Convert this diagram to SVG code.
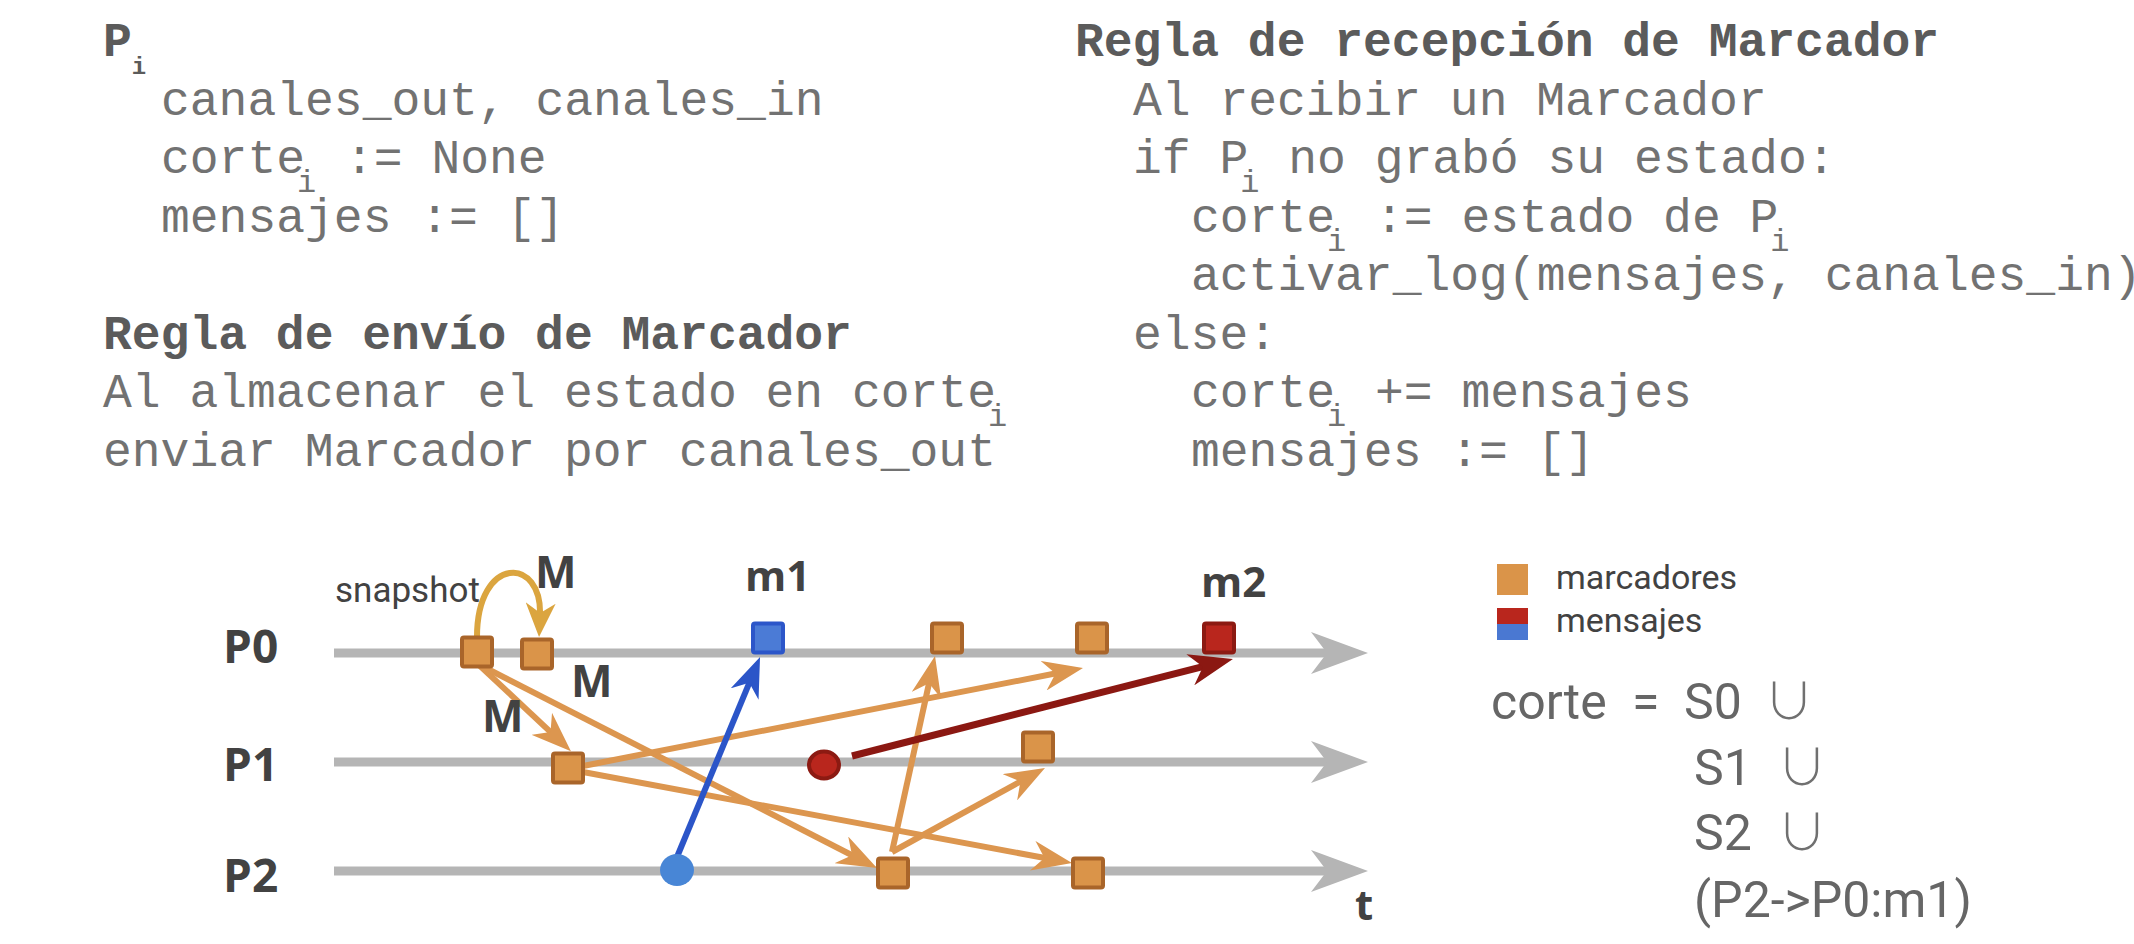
<svg xmlns="http://www.w3.org/2000/svg" width="2134" height="944" viewBox="0 0 2134 944">
<style>
.code{font-family:"Courier New","Nimbus Mono PS","Nimbus Mono L","FreeMono","Liberation Mono",monospace;font-size:48px;fill:#727272;}
.codeb{font-family:"Courier New","Nimbus Mono PS","Nimbus Mono L","FreeMono","Liberation Mono",monospace;font-size:48px;font-weight:bold;fill:#5b5b5b;}
.sub{font-size:32px;}
.subb{font-size:24px;}
.lbl{font-family:"Open Sans","DejaVu Sans",sans-serif;font-weight:bold;fill:#424242;}
.reg{font-family:Roboto,"Open Sans",sans-serif;fill:#424242;}
.frm{font-family:Roboto,"Open Sans",sans-serif;font-size:50px;fill:#666666;}
.cup{font-family:"Noto Sans CJK JP","Noto Sans CJK SC","DejaVu Sans",sans-serif;font-size:50px;font-weight:200;fill:#707070;}
.tl{stroke:#b5b5b5;stroke-width:9;fill:none;}
.tlh{fill:#b5b5b5;}
.mk{fill:#da9449;stroke:#a9652a;stroke-width:4;}
.mb{fill:#4b7bd6;stroke:#2c56c9;stroke-width:4;}
.mr{fill:#b9261d;stroke:#8c1a12;stroke-width:4;}
.or{stroke:#dc964f;stroke-width:6;fill:none;marker-end:url(#ah-or);}
</style>
<defs>
<marker id="ah-or" markerUnits="userSpaceOnUse" viewBox="0 0 40 30" refX="18" refY="15" markerWidth="40" markerHeight="30" orient="auto"><path d="M0,0 L40,15 L0,30 L12,15 z" fill="#dc964f"/></marker>
<marker id="ah-gd" markerUnits="userSpaceOnUse" viewBox="0 0 34 30" refX="14" refY="15" markerWidth="34" markerHeight="30" orient="auto"><path d="M0,0 L34,15 L0,30 L10,15 z" fill="#dba53f"/></marker>
<marker id="ah-bl" markerUnits="userSpaceOnUse" viewBox="0 0 40 30" refX="18" refY="15" markerWidth="40" markerHeight="30" orient="auto"><path d="M0,0 L40,15 L0,30 L12,15 z" fill="#2b55c8"/></marker>
<marker id="ah-rd" markerUnits="userSpaceOnUse" viewBox="0 0 44 32" refX="20" refY="16" markerWidth="44" markerHeight="32" orient="auto"><path d="M0,0 L44,16 L0,32 L13,16 z" fill="#8b1812"/></marker>
</defs>
<rect width="2134" height="944" fill="#ffffff"/>

<g id="code-left">
<text class="codeb" x="103" y="56">P<tspan class="subb" dy="18">i</tspan></text>
<text class="code" x="161" y="114.5">canales_out, canales_in</text>
<text class="code" x="161" y="173">corte<tspan class="sub" dx="-8" dy="19">i</tspan><tspan dy="-19"> := None</tspan></text>
<text class="code" x="161" y="231.5">mensajes := []</text>
<text class="codeb" x="103" y="348.5">Regla de envío de Marcador</text>
<text class="code" x="103" y="407">Al almacenar el estado en corte<tspan class="sub" dx="-8" dy="19">i</tspan></text>
<text class="code" x="103" y="465.5">enviar Marcador por canales_out</text>
</g>

<g id="code-right">
<text class="codeb" x="1075" y="56">Regla de recepción de Marcador</text>
<text class="code" x="1133" y="114.5">Al recibir un Marcador</text>
<text class="code" x="1133" y="173">if P<tspan class="sub" dx="-8" dy="19">i</tspan><tspan dy="-19"> no grabó su estado:</tspan></text>
<text class="code" x="1191" y="231.5">corte<tspan class="sub" dx="-8" dy="19">i</tspan><tspan dy="-19"> := estado de P</tspan><tspan class="sub" dx="-8" dy="19">i</tspan></text>
<text class="code" x="1191" y="290">activar_log(mensajes, canales_in)</text>
<text class="code" x="1133" y="348.5">else:</text>
<text class="code" x="1191" y="407">corte<tspan class="sub" dx="-8" dy="19">i</tspan><tspan dy="-19"> += mensajes</tspan></text>
<text class="code" x="1191" y="465.5">mensajes := []</text>
</g>

<g id="timelines">
<g id="P0">
<line class="tl" x1="334" y1="653" x2="1330" y2="653"/>
<polygon class="tlh" points="1368,653 1311,632 1327,653 1311,674"/>
<text class="lbl" x="223" y="663" font-size="46">P0</text>
</g>
<g id="P1">
<line class="tl" x1="334" y1="762" x2="1330" y2="762"/>
<polygon class="tlh" points="1368,762 1311,741 1327,762 1311,783"/>
<text class="lbl" x="223" y="781" font-size="46">P1</text>
</g>
<g id="P2">
<line class="tl" x1="334" y1="871" x2="1330" y2="871"/>
<polygon class="tlh" points="1368,871 1311,850 1327,871 1311,892"/>
<text class="lbl" x="223" y="892" font-size="46">P2</text>
<text class="lbl" x="1355" y="920" font-size="42">t</text>
</g>
</g>

<g id="connectors">
<path d="M477,637 C477,555 543,555 540,617" stroke="#dba53f" stroke-width="6" fill="none" marker-end="url(#ah-gd)"/>
<line class="or" x1="478" y1="664" x2="554.9" y2="736.1"/>
<line class="or" x1="478" y1="664" x2="857.4" y2="858"/>
<line class="or" x1="583" y1="766" x2="1061.4" y2="672.3"/>
<line class="or" x1="583" y1="772" x2="1050.4" y2="859"/>
<line class="or" x1="892" y1="852" x2="930.3" y2="677.5"/>
<line class="or" x1="892" y1="852" x2="1025.7" y2="778.6"/>
<line x1="677" y1="857" x2="751.6" y2="677.3" stroke="#2b55c8" stroke-width="6" marker-end="url(#ah-bl)"/>
<line x1="852" y1="756" x2="1209.7" y2="664.9" stroke="#8b1812" stroke-width="7" marker-end="url(#ah-rd)"/>
</g>

<g id="labels">
<text class="reg" x="335" y="602" font-size="35">snapshot</text>
<text class="lbl" x="535" y="588" font-size="44">M</text>
<text class="lbl" x="571" y="697" font-size="44">M</text>
<text class="lbl" x="482" y="732" font-size="44">M</text>
<text class="lbl" x="745" y="591" font-size="42">m1</text>
<text class="lbl" x="1201" y="597" font-size="42">m2</text>
</g>

<g id="n-p0-snap"><rect class="mk" x="462" y="637.5" width="30" height="29" rx="2"/></g>
<g id="n-p0-m"><rect class="mk" x="522" y="639.5" width="30" height="29" rx="2"/></g>
<g id="n-m1"><rect class="mb" x="753" y="623.5" width="30" height="29" rx="2"/></g>
<g id="n-p0-c"><rect class="mk" x="932" y="623.5" width="30" height="29" rx="2"/></g>
<g id="n-p0-d"><rect class="mk" x="1077" y="623.5" width="30" height="29" rx="2"/></g>
<g id="n-m2"><rect class="mr" x="1204" y="623.5" width="30" height="29" rx="2"/></g>
<g id="n-p1-a"><rect class="mk" x="553" y="753.5" width="30" height="29" rx="2"/></g>
<g id="n-p1-b"><rect class="mk" x="1023" y="732.5" width="30" height="29" rx="2"/></g>
<g id="n-p1-red"><ellipse class="mr" cx="824" cy="765" rx="15" ry="13.5"/></g>
<g id="n-p2-blue"><ellipse cx="677" cy="870" rx="17" ry="16" fill="#4886d6"/></g>
<g id="n-p2-a"><rect class="mk" x="878" y="858.5" width="30" height="29" rx="2"/></g>
<g id="n-p2-b"><rect class="mk" x="1073" y="858.5" width="30" height="29" rx="2"/></g>

<g id="legend">
<rect x="1497" y="564" width="31" height="31" fill="#da9449"/>
<rect x="1497" y="608" width="31" height="16" fill="#b9261d"/>
<rect x="1497" y="624" width="31" height="16" fill="#4a78d2"/>
<text class="reg" x="1556" y="589" font-size="34">marcadores</text>
<text class="reg" x="1556" y="632" font-size="34">mensajes</text>
</g>

<g id="formula">
<text class="frm" x="1491" y="719">corte</text>
<text class="frm" x="1632" y="719">=</text>
<text class="frm" x="1684" y="719">S0</text>
<text class="cup" x="1764" y="719">∪</text>
<text class="frm" x="1694" y="785">S1</text>
<text class="cup" x="1777" y="785">∪</text>
<text class="frm" x="1694" y="850">S2</text>
<text class="cup" x="1777" y="850">∪</text>
<text class="frm" x="1694" y="917">(P2-&gt;P0:m1)</text>
</g>
</svg>
